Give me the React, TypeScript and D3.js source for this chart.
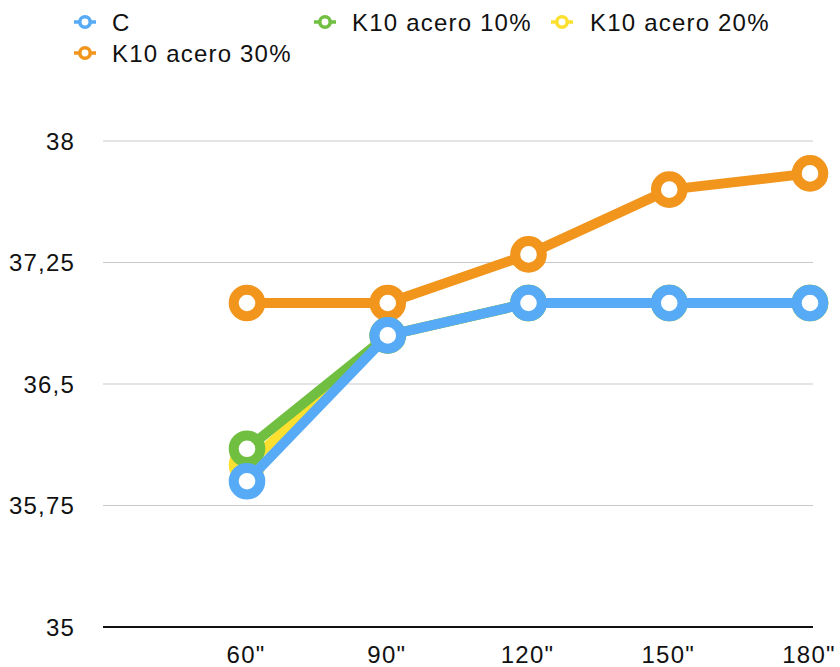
import React from "react";
import * as d3 from "d3";

const categories = ['60"', '90"', '120"', '150"', '180"'];
const seriesNames = ["C", "K10 acero 10%", "K10 acero 20%", "K10 acero 30%"];
const valuesC = [35.9, 36.8, 37.0, 37.0, 37.0];
const valuesK10 = [36.1, 36.8, 37.0, 37.0, 37.0];
const valuesK20 = [36.0, 36.8, 37.0, 37.0, 37.0];
const valuesK30 = [37.0, 37.0, 37.3, 37.7, 37.8];
const yTicks = [35, 35.75, 36.5, 37.25, 38];
const colors = ["#56aaf6", "#70bf41", "#fbe02f", "#f1951d"];

const W = 840;
const H = 667;
const FONT = "'Liberation Sans', Arial, Helvetica, sans-serif";

export default function App() {
  const x = d3.scalePoint<string>().domain(categories).range([247, 810]);
  const y = d3.scaleLinear().domain([35, 38]).range([627, 141]);
  const gridLeft = 103;
  const gridRight = 813;

  const series = [valuesC, valuesK10, valuesK20, valuesK30].map((vals, i) => ({
    name: seriesNames[i],
    color: colors[i],
    points: vals.map((v, j) => ({ cat: categories[j], v })),
  }));

  const line = d3
    .line<{ cat: string; v: number }>()
    .x((d) => x(d.cat) as number)
    .y((d) => y(d.v));

  const fmt = (v: number) => String(v).replace(".", ",");

  // legend layout: two rows
  const legendItems = [
    { i: 0, mx: 85, tx: 112, row: 0 },
    { i: 1, mx: 325, tx: 352, row: 0 },
    { i: 2, mx: 562, tx: 590, row: 0 },
    { i: 3, mx: 85, tx: 112, row: 1 },
  ];
  const rowY = [22, 53];

  // draw last series first so "C" sits on top
  const drawOrder = [...series].reverse();

  return (
    <svg
      width={W}
      height={H}
      style={{ position: "absolute", left: 0, top: 0, background: "#fff" }}
      fontFamily={FONT}
    >
      {/* legend */}
      {legendItems.map((it) => (
        <g key={it.i}>
          <line
            x1={it.mx - 11}
            x2={it.mx + 11}
            y1={rowY[it.row]}
            y2={rowY[it.row]}
            stroke={series[it.i].color}
            strokeWidth={3.5}
          />
          <circle
            cx={it.mx}
            cy={rowY[it.row]}
            r={5.2}
            fill="#fff"
            stroke={series[it.i].color}
            strokeWidth={3.5}
          />
          <text
            x={it.tx}
            y={rowY[it.row] + 8.5}
            fontSize={24}
            letterSpacing={1.2}
            fill="#111"
          >
            {series[it.i].name}
          </text>
        </g>
      ))}

      {/* gridlines */}
      {yTicks.map((t) => (
        <g key={t}>
          <line
            x1={gridLeft}
            x2={gridRight}
            y1={y(t)}
            y2={y(t)}
            stroke={t === 35 ? "#111" : "#c9c9c9"}
            strokeWidth={t === 35 ? 2 : 1}
          />
          <text
            x={75}
            y={y(t) + 8.5}
            textAnchor="end"
            fontSize={24}
            letterSpacing={1.2}
            fill="#111"
          >
            {fmt(t)}
          </text>
        </g>
      ))}

      {/* x labels */}
      {categories.map((c) => (
        <text
          key={c}
          x={(x(c) as number) - 1}
          y={663}
          textAnchor="middle"
          fontSize={24}
          letterSpacing={1.2}
          fill="#111"
        >
          {c}
        </text>
      ))}

      {/* series */}
      {drawOrder.map((s) => (
        <g key={s.name}>
          <path
            d={line(s.points) as string}
            fill="none"
            stroke={s.color}
            strokeWidth={10}
            strokeLinejoin="round"
          />
          {s.points.map((p) => (
            <circle
              key={p.cat}
              cx={x(p.cat) as number}
              cy={y(p.v)}
              r={13.3}
              fill="#fff"
              stroke={s.color}
              strokeWidth={10}
            />
          ))}
        </g>
      ))}
    </svg>
  );
}
